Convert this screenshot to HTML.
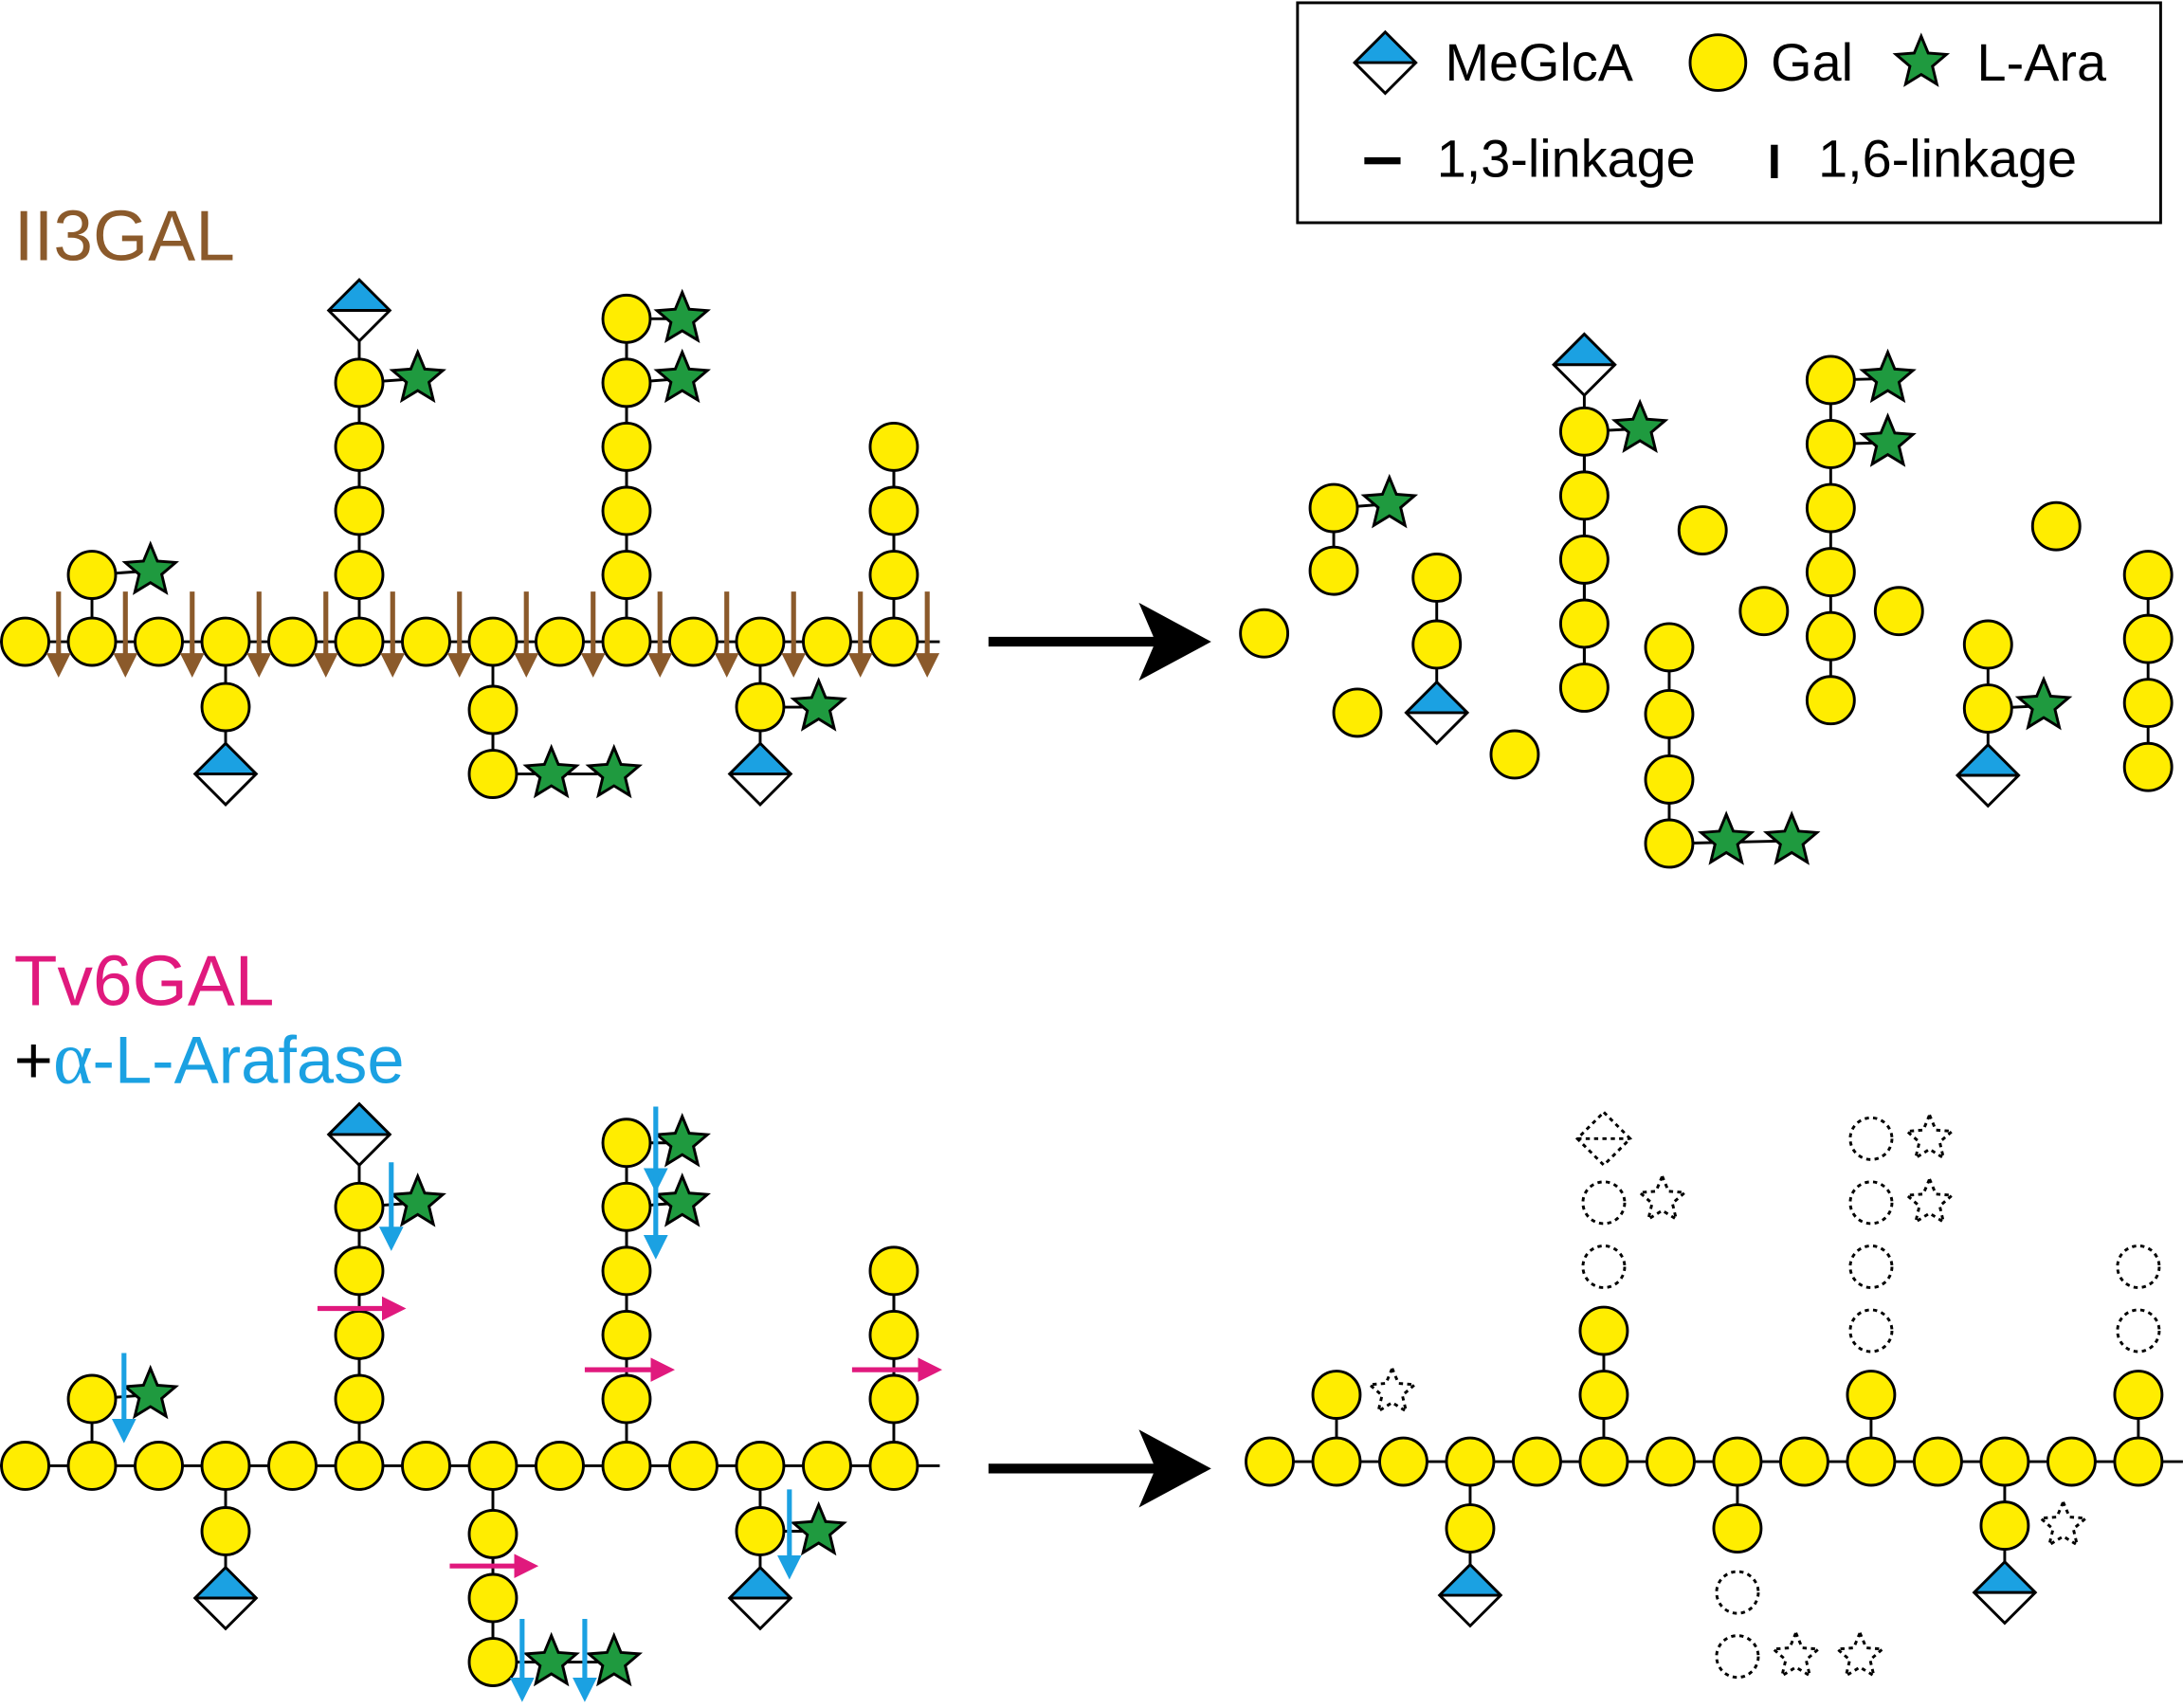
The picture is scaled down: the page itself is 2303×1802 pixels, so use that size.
<!DOCTYPE html>
<html><head><meta charset="utf-8">
<style>
html,body{margin:0;padding:0;background:#fff;}
svg{display:block;}
text{font-family:"Liberation Sans",sans-serif;}
</style></head>
<body>
<svg id="s" width="2303" height="1802" viewBox="0 0 1568 1227" xmlns="http://www.w3.org/2000/svg">
<defs>
<marker id="mb" viewBox="0 0 10 10" refX="5" refY="5" markerWidth="5" markerHeight="5" orient="auto"><path d="M0,0L10,5L0,10z" fill="#8B5A2B"/></marker>
<marker id="mc" viewBox="0 0 10 10" refX="5" refY="5" markerWidth="5" markerHeight="5" orient="auto"><path d="M0,0L10,5L0,10z" fill="#1BA1E2"/></marker>
<marker id="mm" viewBox="0 0 10 10" refX="5" refY="5" markerWidth="5" markerHeight="5" orient="auto"><path d="M0,0L10,5L0,10z" fill="#E0197D"/></marker>
</defs>
<g id="lines"></g><g id="shapes"></g><g id="arrows"></g>
<rect x="932" y="2" width="620" height="158" fill="none" stroke="#000" stroke-width="2"/>
<text x="1038" y="58" font-size="38">MeGlcA</text>
<text x="1272" y="58" font-size="38">Gal</text>
<text x="1420" y="58" font-size="38">L-Ara</text>
<text x="1032" y="127" font-size="38">1,3-linkage</text>
<text x="1306" y="127" font-size="38">1,6-linkage</text>
<rect x="980" y="113" width="26" height="5" fill="#000"/>
<rect x="1272" y="104" width="5" height="24" fill="#000"/>
<text x="10" y="187" font-size="51" fill="#8B5A2B">II3GAL</text>
<text x="10" y="722" font-size="51" fill="#E0197D">Tv6GAL</text>
<text x="10" y="778" font-size="48"><tspan fill="#000">+</tspan><tspan fill="#1BA1E2" font-family="Liberation Serif" font-size="54">α</tspan><tspan fill="#1BA1E2">-L-Arafase</tspan></text>
</svg>
<script>
const NS="http://www.w3.org/2000/svg";
const L=document.getElementById('lines'),S=document.getElementById('shapes'),A=document.getElementById('arrows');
function el(p,t,a){const e=document.createElementNS(NS,t);for(const k in a)e.setAttribute(k,a[k]);p.appendChild(e);return e;}
function ln(x1,y1,x2,y2){el(L,'line',{x1,y1,x2,y2,stroke:'#000','stroke-width':2});}
function C(x,y,d){el(S,'circle',{cx:x,cy:y,r:d?15:17,fill:d?'#fff':'#FFED00',stroke:'#000','stroke-width':2,'stroke-dasharray':d?'3,3':'none'});}
function starPts(x,y,r){let p=[];for(let i=0;i<10;i++){const a=-Math.PI/2+i*Math.PI/5,rr=i%2?r*0.45:r;p.push((x+rr*Math.cos(a)).toFixed(1)+','+(y+rr*Math.sin(a)).toFixed(1));}return p.join(' ');}
function St(x,y,d){el(S,'polygon',{points:starPts(x,y,d?17:19),fill:d?'#fff':'#1F9A3F',stroke:'#000','stroke-width':2,'stroke-dasharray':d?'3,3':'none'});}
function D(x,y,d,h){h=h||22;if(d){el(S,'polygon',{points:`${x},${y-h+3} ${x+h-3},${y} ${x},${y+h-3} ${x-h+3},${y}`,fill:'#fff',stroke:'#000','stroke-width':2,'stroke-dasharray':'3,3'});el(S,'line',{x1:x-h+3,y1:y,x2:x+h-3,y2:y,stroke:'#000','stroke-width':2,'stroke-dasharray':'3,3'});return;}
el(S,'polygon',{points:`${x-h},${y} ${x},${y+h} ${x+h},${y}`,fill:'#fff'});
el(S,'polygon',{points:`${x-h},${y} ${x},${y-h} ${x+h},${y}`,fill:'#1BA1E2'});
el(S,'polygon',{points:`${x-h},${y} ${x},${y-h} ${x+h},${y} ${x},${y+h}`,fill:'none',stroke:'#000','stroke-width':2});
el(S,'line',{x1:x-h,y1:y,x2:x+h,y2:y,stroke:'#000','stroke-width':2});}
function arr(x1,y1,x2,y2,c,m){el(A,'line',{x1,y1,x2,y2,stroke:c,'stroke-width':3.5,'marker-end':'url(#'+m+')'});}
function chainV(x,ys,d){for(let i=0;i<ys.length;i++){if(i>0)ln(x,ys[i-1],x,ys[i]);C(x,ys[i],d&&d[i]);}}
D(995,45);el(S,'circle',{cx:1234,cy:45,r:20,fill:'#FFED00',stroke:'#000','stroke-width':2});St(1380,45);
ln(0,461,675,461);
const bx=[];for(let i=0;i<14;i++)bx.push(18+48*i);
function leftPanel(off,bottom){
 const Y=v=>v+off;
 ln(66,Y(461),66,Y(413));C(66,Y(413));ln(66,Y(413),108,Y(410));St(108,Y(410));
 ln(258,Y(461),258,Y(223));chainV(258,[Y(413),Y(367),Y(321),Y(275)]);ln(258,Y(275),300,Y(272));St(300,Y(272));D(258,Y(223));
 ln(162,Y(461),162,Y(556));C(162,Y(508));D(162,Y(556));
 if(bottom){ln(354,1053,354,1194);chainV(354,[1102,1148,1194]);ln(354,1194,441,1194);St(396,1194);St(441,1194);}
 else{ln(354,461,354,556);chainV(354,[510,556]);ln(354,556,441,556);St(396,556);St(441,556);}
 ln(450,Y(461),450,Y(229));chainV(450,[Y(413),Y(367),Y(321),Y(275),Y(229)]);ln(450,Y(229),490,Y(229));ln(450,Y(275),490,Y(272));St(490,Y(229));St(490,Y(272));
 ln(546,Y(461),546,Y(556));C(546,Y(508));ln(546,Y(508),588,Y(508));St(588,Y(508));D(546,Y(556));
 ln(642,Y(461),642,Y(321));chainV(642,[Y(413),Y(367),Y(321)]);
 bx.forEach(x=>C(x,Y(461)));
}
leftPanel(0,false);
for(let i=0;i<14;i++){const x=42+48*i;arr(x,425,x,478,'#8B5A2B','mb');}
ln(0,1053,675,1053);
leftPanel(592,true);
arr(89,972,89,1028,'#1BA1E2','mc');arr(281,835,281,890,'#1BA1E2','mc');
arr(471,795,471,848,'#1BA1E2','mc');arr(471,845,471,896,'#1BA1E2','mc');
arr(567,1070,567,1126,'#1BA1E2','mc');arr(375,1163,375,1214,'#1BA1E2','mc');arr(420,1163,420,1214,'#1BA1E2','mc');
arr(228,940,283,940,'#E0197D','mm');arr(420,984,476,984,'#E0197D','mm');arr(612,984,668,984,'#E0197D','mm');arr(323,1125,378,1125,'#E0197D','mm');
function big(y){el(A,'line',{x1:710,y1:y,x2:830,y2:y,stroke:'#000','stroke-width':7});el(A,'path',{d:`M818,${y-28} L870,${y} L818,${y+28} L830,${y} z`,fill:'#000'});}
big(461);big(1055);
C(908,455);
ln(958,365,958,410);ln(958,365,998,362);C(958,365);C(958,410);St(998,362);
C(975,512);
ln(1032,415,1032,512);C(1032,415);C(1032,463);D(1032,512);
C(1088,542);
ln(1138,262,1138,494);D(1138,262);chainV(1138,[310,356,402,448,494]);ln(1138,310,1178,308);St(1178,308);
chainV(1199,[465,513,560,606]);ln(1199,606,1287,604);St(1240,604);St(1287,604);
C(1223,381);C(1267,439);C(1364,439);C(1477,378);
ln(1315,273,1356,272);ln(1315,319,1356,318);chainV(1315,[273,319,365,411,457,503]);St(1356,272);St(1356,318);
ln(1428,463,1428,557);C(1428,463);C(1428,509);ln(1428,509,1468,507);St(1468,507);D(1428,557);
chainV(1543,[413,459,505,551]);
ln(895,1050,1568,1050);
ln(960,1050,960,1002);C(960,1002);St(1000,1000,1);
ln(1056,1050,1056,1146);C(1056,1098);D(1056,1146);
ln(1152,1050,1152,956);C(1152,1002);C(1152,956);C(1152,910,1);C(1152,864,1);St(1194,862,1);D(1152,818,1);
ln(1248,1050,1248,1098);C(1248,1098);C(1248,1144,1);C(1248,1190,1);St(1290,1190,1);St(1336,1190,1);
ln(1344,1050,1344,1002);C(1344,1002);C(1344,956,1);C(1344,910,1);C(1344,864,1);C(1344,818,1);St(1386,864,1);St(1386,818,1);
ln(1440,1050,1440,1144);C(1440,1096);St(1482,1096,1);D(1440,1144);
ln(1536,1050,1536,1002);C(1536,1002);C(1536,956,1);C(1536,910,1);
for(let i=0;i<14;i++)C(912+48*i,1050);
</script>
</body></html>
